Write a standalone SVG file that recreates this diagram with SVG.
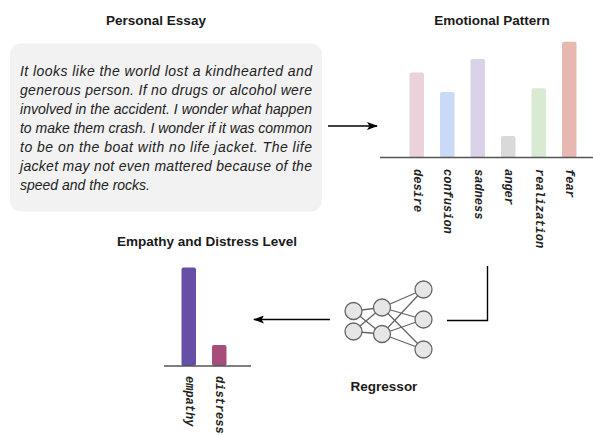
<svg xmlns="http://www.w3.org/2000/svg" width="593" height="435" viewBox="0 0 593 435">
<defs>
<marker id="arr" markerWidth="11" markerHeight="8" refX="10" refY="4" orient="auto" markerUnits="userSpaceOnUse">
<path d="M0,0 L11,4 L0,8 L2.5,4 Z" fill="#000"/>
</marker>
</defs>
<style>
.title{font-family:"Liberation Sans",Arial,sans-serif;font-weight:bold;font-size:13.5px;fill:#1a1a1a;text-anchor:middle}
.essay{font-family:"Liberation Sans",Arial,sans-serif;font-style:italic;font-size:14px;fill:#222}
.lbl{font-family:"Liberation Mono","Courier New",monospace;font-weight:bold;font-style:italic;font-size:12px;fill:#222;dominant-baseline:central}
.axis{stroke:#555;stroke-width:1.3}
.conn{stroke:#000;stroke-width:1.4;fill:none}
.nn line{stroke:#666;stroke-width:1.3}
.nn circle{fill:#e6e6e6;stroke:#666;stroke-width:1.3}
</style>
<rect width="593" height="435" fill="#fff"/>

<g id="essay">
<text class="title" x="156" y="25">Personal Essay</text>
<rect x="10" y="43.5" width="312" height="168" rx="11" fill="#f2f2f2"/>
<text class="essay" x="20" y="76" textLength="292" lengthAdjust="spacing">It looks like the world lost a kindhearted and</text>
<text class="essay" x="20" y="95" textLength="292" lengthAdjust="spacing">generous person. If no drugs or alcohol were</text>
<text class="essay" x="20" y="114" textLength="292" lengthAdjust="spacing">involved in the accident. I wonder what happen</text>
<text class="essay" x="20" y="133" textLength="292" lengthAdjust="spacing">to make them crash. I wonder if it was common</text>
<text class="essay" x="20" y="151.5" textLength="292" lengthAdjust="spacing">to be on the boat with no life jacket. The life</text>
<text class="essay" x="20" y="170.5" textLength="292" lengthAdjust="spacing">jacket may not even mattered because of the</text>
<text class="essay" x="20" y="189.5">speed and the rocks.</text>
</g>

<g id="emotional-pattern">
<text class="title" x="492" y="25">Emotional Pattern</text>
<rect x="409.5" y="72.5" width="14.5" height="85" rx="2" fill="#ead1dc"/>
<rect x="440" y="92" width="14.5" height="65.5" rx="2" fill="#c9daf8"/>
<rect x="470.5" y="59" width="14.5" height="98.5" rx="2" fill="#d9d2e9"/>
<rect x="501" y="136" width="14.5" height="21.5" rx="2" fill="#d9d9d9"/>
<rect x="531.5" y="88.3" width="14.5" height="69.2" rx="2" fill="#d9ead3"/>
<rect x="562" y="41.7" width="14.5" height="115.8" rx="2" fill="#e6b8af"/>
<line class="axis" x1="380" y1="157.5" x2="593" y2="157.5"/>
<text class="lbl" transform="translate(416.5,169) rotate(90)">desire</text>
<text class="lbl" transform="translate(447,169) rotate(90)">confusion</text>
<text class="lbl" transform="translate(477.5,169) rotate(90)">sadness</text>
<text class="lbl" transform="translate(508,169) rotate(90)">anger</text>
<text class="lbl" transform="translate(538.5,169) rotate(90)">realization</text>
<text class="lbl" transform="translate(569,169) rotate(90)">fear</text>
</g>

<g id="regressor">
<g class="nn">
<line x1="353.5" y1="311" x2="382" y2="307.5"/>
<line x1="353.5" y1="311" x2="382" y2="334"/>
<line x1="353.5" y1="331.5" x2="382" y2="307.5"/>
<line x1="353.5" y1="331.5" x2="382" y2="334"/>
<line x1="382" y1="307.5" x2="423.5" y2="289.5"/>
<line x1="382" y1="307.5" x2="423.5" y2="319.5"/>
<line x1="382" y1="307.5" x2="423.5" y2="349.5"/>
<line x1="382" y1="334" x2="423.5" y2="289.5"/>
<line x1="382" y1="334" x2="423.5" y2="319.5"/>
<line x1="382" y1="334" x2="423.5" y2="349.5"/>
<circle cx="353.5" cy="311" r="8.5"/>
<circle cx="353.5" cy="331.5" r="8.5"/>
<circle cx="382" cy="307.5" r="8.5"/>
<circle cx="382" cy="334" r="8.5"/>
<circle cx="423.5" cy="289.5" r="8.5"/>
<circle cx="423.5" cy="319.5" r="8.5"/>
<circle cx="423.5" cy="349.5" r="8.5"/>
</g>
<text class="title" x="384" y="391">Regressor</text>
</g>

<g id="empathy-distress">
<text class="title" x="207" y="246">Empathy and Distress Level</text>
<rect x="181.5" y="267.5" width="14.5" height="98.5" rx="2" fill="#674ea7"/>
<rect x="212" y="345" width="14.5" height="21" rx="2" fill="#a64d79"/>
<line class="axis" x1="164" y1="366" x2="251" y2="366"/>
<text class="lbl" transform="translate(188.5,376) rotate(90)">empathy</text>
<text class="lbl" transform="translate(219,376) rotate(90)">distress</text>
</g>

<g id="connectors">
<line class="conn" x1="328" y1="126" x2="377" y2="126" marker-end="url(#arr)"/>
<polyline class="conn" stroke="#333" points="487.5,266 487.5,320.5 447,320.5"/>
<line class="conn" x1="330" y1="319.5" x2="254" y2="319.5" marker-end="url(#arr)"/>
</g>
</svg>
